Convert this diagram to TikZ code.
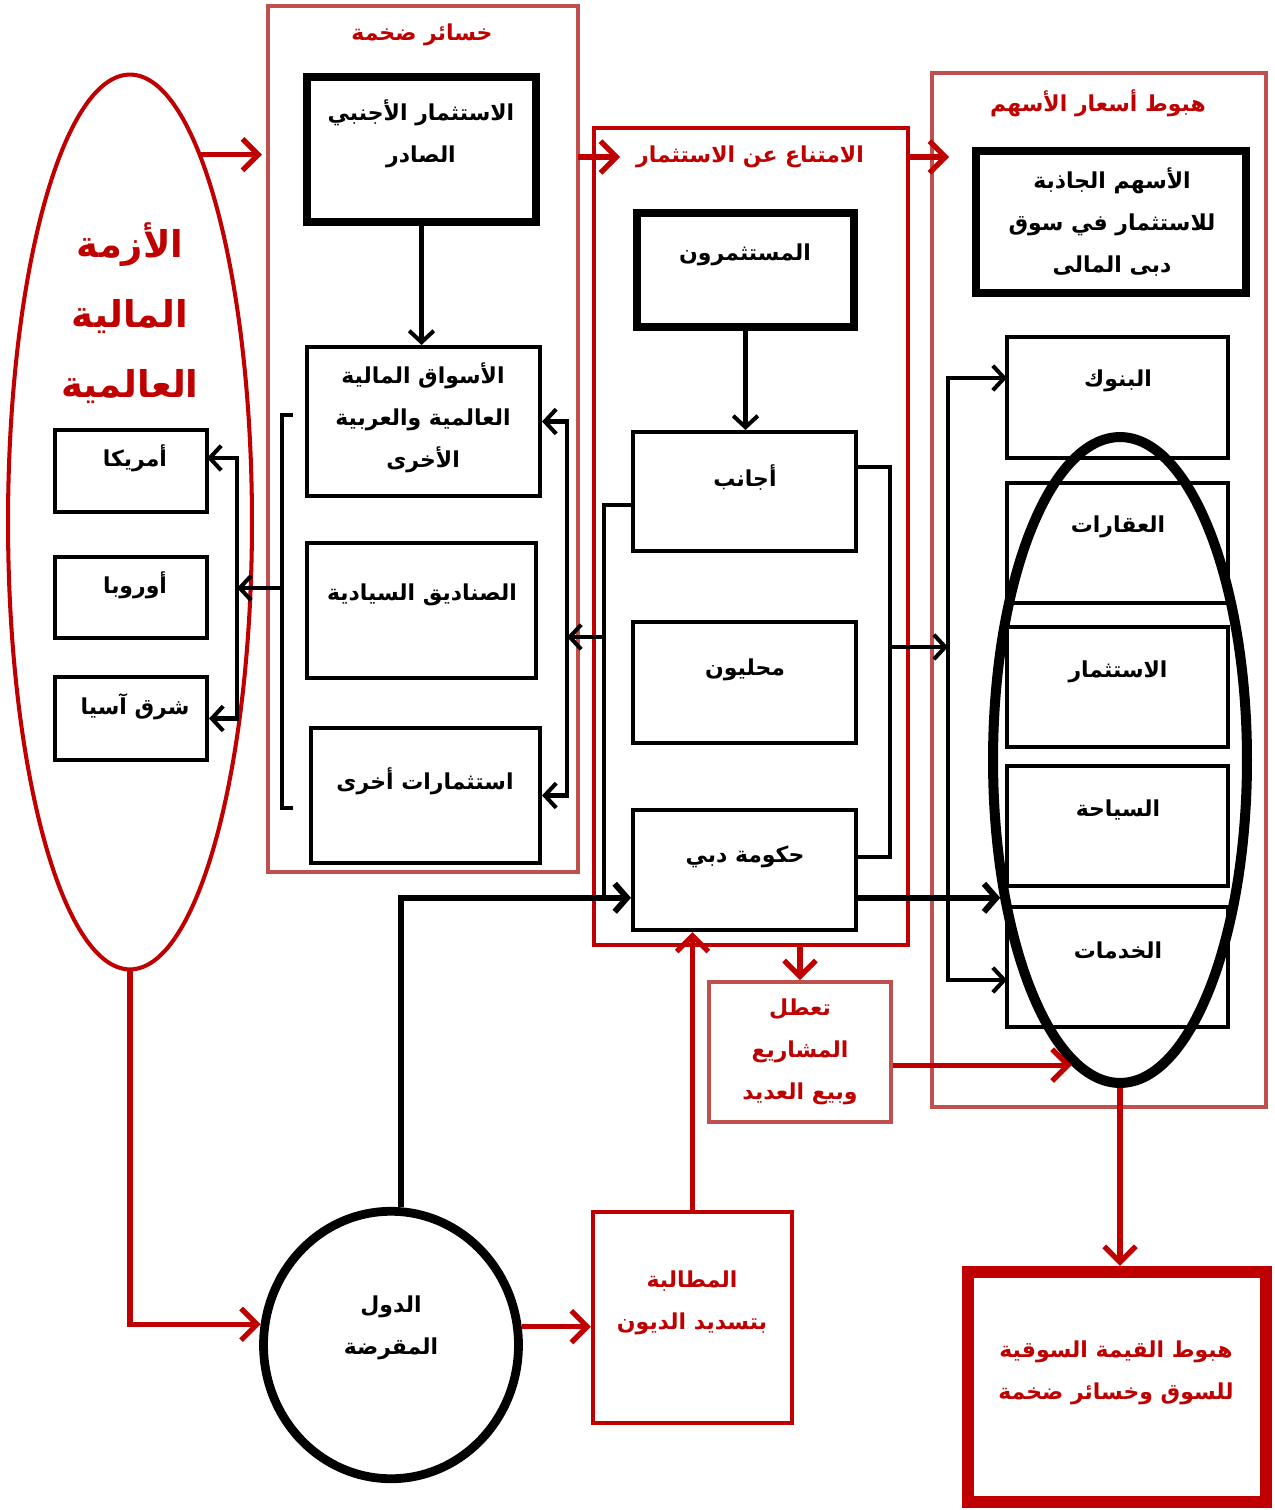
\documentclass[tikz,border=0pt]{standalone}
\usepackage{fontspec}
\newfontfamily\arabicfont[Script=Arabic]{DejaVu Sans}
\TeXXeTstate=1
\usetikzlibrary{arrows.meta,shapes.geometric,fit}
\newcommand\AR[1]{\beginR #1\endR}
\definecolor{dred}{HTML}{C00000}
\definecolor{pred}{HTML}{C0504D}
\begin{document}
\begin{tikzpicture}[x=0.02cm,y=-0.02cm,
  txt/.style={font=\arabicfont\bfseries\fontsize{12.5}{24}\selectfont, align=center, inner sep=0pt},
  rtxt/.style={txt, text=dred},
  bigtxt/.style={font=\arabicfont\bfseries\fontsize{21}{40}\selectfont, align=center, inner sep=0pt, text=dred},
  box/.style={draw=black, line width=2.3pt, inner sep=0pt},
  tbox/.style={draw=black, line width=5pt, inner sep=0pt},
  pframe/.style={draw=pred, line width=2.2pt, inner sep=0pt},
  rframe/.style={draw=dred, line width=2.4pt, inner sep=0pt},
  barrow/.style={draw=black, line width=2.3pt, -{Straight Barb[length=6.5pt,width=14pt]}},
  bline/.style={draw=black, line width=2.3pt},
  tharrow/.style={draw=black, line width=3.4pt, -{Straight Barb[length=7pt,width=16pt]}},
  rarrow/.style={draw=dred, line width=3pt, -{Straight Barb[length=9pt,width=18pt]}},
]
\useasboundingbox (0,0) rectangle (1274,1510);

% frames
\node[pframe, fit={(268,6) (578,872)}] (lossframe) {};
\node[rframe, fit={(594,128) (908,945)}] (abst) {};
\node[pframe, fit={(932,73) (1266,1107)}] (dropframe) {};
\node[pframe, fit={(709,982) (891,1122)}] (stop) {};
\node[rframe, fit={(593,1212) (792,1423)}] (demand) {};
\node[draw=dred, line width=7pt, inner sep=0pt, fit={(968,1272) (1266,1502)}] (final) {};

% left crisis ellipse
\node[draw=dred, line width=2.3pt, ellipse, inner sep=0pt, minimum width=4.88cm, minimum height=17.9cm] (crisis) at (130,522) {};
\node[bigtxt] (crisistxt) at (130,313) {\AR{الأزمة}\\\AR{المالية}\\\AR{العالمية}};

% regions
\node[box, fit={(55,430) (207,512)}] (america) {};
\node[box, fit={(55,557) (207,638)}] (europe) {};
\node[box, fit={(55,677) (207,760)}] (asia) {};
\node[txt] (americat) at (135,458) {\AR{أمريكا}};
\node[txt] (europet) at (135,585) {\AR{أوروبا}};
\node[txt] (asiat) at (135,707) {\AR{شرق آسيا}};

% loss frame content
\node[rtxt] (losst) at (422,35) {\AR{خسائر ضخمة}};
\node[tbox, fit={(307,77) (536,222)}] (fdi) {};
\node[txt] (fdit) at (421,134) {\AR{الاستثمار الأجنبي}\\\AR{الصادر}};
\node[box, fit={(307,347) (540,496)}] (markets) {};
\node[txt] (marketst) at (423,418) {\AR{الأسواق المالية}\\\AR{العالمية والعربية}\\\AR{الأخرى}};
\node[box, fit={(307,543) (536,678)}] (funds) {};
\node[txt] (fundst) at (422,595) {\AR{الصناديق السيادية}};
\node[box, fit={(311,728) (540,863)}] (other) {};
\node[txt] (othert) at (425,781) {\AR{استثمارات أخرى}};

% abstention frame content
\node[rtxt] (abstt) at (750,157) {\AR{الامتناع عن الاستثمار}};
\node[tbox, fit={(637,213) (854,327)}] (inv) {};
\node[txt] (invt) at (745,255) {\AR{المستثمرون}};
\node[box, fit={(633,432) (856,551)}] (foreign) {};
\node[txt] (foreignt) at (745,477) {\AR{أجانب}};
\node[box, fit={(633,622) (856,743)}] (local) {};
\node[txt] (localt) at (745,670) {\AR{محليون}};
\node[box, fit={(633,810) (856,930)}] (gov) {};
\node[txt] (govt) at (745,857) {\AR{حكومة دبي}};

% drop frame content
\node[rtxt] (dropt) at (1098,103) {\AR{هبوط أسعار الأسهم}};
\node[tbox, fit={(976,151) (1246,293)}] (attract) {};
\node[txt] (attractt) at (1112,222) {\AR{الأسهم الجاذبة}\\\AR{للاستثمار في سوق}\\\AR{دبى المالى}};
\node[box, fit={(1007,337) (1228,458)}] (banks) {};
\node[txt] (bankst) at (1118,381) {\AR{البنوك}};
\node[box, fit={(1007,483) (1228,603)}] (estate) {};
\node[txt] (estatet) at (1118,527) {\AR{العقارات}};
\node[box, fit={(1007,627) (1228,747)}] (invest) {};
\node[txt] (investt) at (1118,672) {\AR{الاستثمار}};
\node[box, fit={(1007,766) (1228,886)}] (tourism) {};
\node[txt] (tourismt) at (1118,810) {\AR{السياحة}};
\node[box, fit={(1007,907) (1228,1027)}] (services) {};
\node[txt] (servicest) at (1118,950) {\AR{الخدمات}};
\node[draw=black, line width=5.7pt, ellipse, inner sep=0pt, minimum width=5.08cm, minimum height=12.92cm] (sect) at (1120,760) {};

% lower texts
\node[rtxt] (stopt) at (800,1052) {\AR{تعطل}\\\AR{المشاريع}\\\AR{وبيع العديد}};
\node[rtxt] (demandt) at (692,1303) {\AR{المطالبة}\\\AR{بتسديد الديون}};
\node[rtxt] (finalt) at (1116,1373) {\AR{هبوط القيمة السوقية}\\\AR{للسوق وخسائر ضخمة}};
\node[draw=black, line width=5pt, ellipse, inner sep=0pt, minimum width=5.1cm, minimum height=5.35cm] (lender) at (391,1345) {};
\node[txt] (lendert) at (391,1328) {\AR{الدول}\\\AR{المقرضة}};

% coordinates
\coordinate (t1) at (262,157);
\coordinate (s2) at (578,157);
\coordinate (t2) at (620,157);
\coordinate (s3) at (908,157);
\coordinate (t3) at (949,157);
\coordinate (b1) at (282,588);
\coordinate (v1) at (237,588);
\coordinate (am) at (207,458);
\coordinate (lb) at (604,505);
\coordinate (lbm) at (604,637);
\coordinate (v2) at (567,637);
\coordinate (rb1) at (890,467);
\coordinate (rb2) at (890,857);
\coordinate (rbm) at (890,647);
\coordinate (v3) at (948,647);
\coordinate (bk) at (1007,378);
\coordinate (sv) at (1007,980);

% red arrows
\draw[rarrow] (crisis.79) -- (crisis.79 -| t1);
\draw[rarrow] (s2) -- (t2);
\draw[rarrow] (s3) -- (t3);
\draw[rarrow] (crisis.south) |- (lender.171);
\draw[rarrow] (lender.8) -- (lender.8 -| demand.west);
\draw[rarrow] (demand.north) -- (demand.north |- gov.south);
\draw[rarrow] (stop.north |- abst.south) -- (stop.north);
\draw[rarrow] (stop.east |- sect.261) -- (sect.261);
\draw[rarrow] (sect.south) -- (sect.south |- final.north);

% black connectors left
\draw[barrow] (fdi.south) -- (fdi.south |- markets.north);
\draw[bline] (293,415) -- (282,415) -- (282,808) -- (293,808);
\draw[barrow] (b1) -- (v1);
\draw[barrow] (v1) |- (am);
\draw[barrow] (v1) |- (asia.east);

% black connectors middle
\draw[barrow] (inv.south) -- (inv.south |- foreign.north);
\draw[bline] (foreign.west |- lb) -- (lb) -- (lb |- sect.229);
\draw[barrow] (lbm) -- (v2);
\draw[barrow] (v2) |- (markets.east);
\draw[barrow] (v2) |- (other.east);
\draw[bline] (foreign.east |- rb1) -- (rb1) -- (rb2) -- (gov.east |- rb2);
\draw[barrow] (rbm) -- (v3);
\draw[barrow] (v3) |- (bk);
\draw[barrow] (v3) |- (sv);

% thick black line
\draw[tharrow] (lender.86) |- (gov.west |- sect.229);
\draw[tharrow] (gov.east |- sect.229) -- (sect.229);
\end{tikzpicture}
\end{document}
